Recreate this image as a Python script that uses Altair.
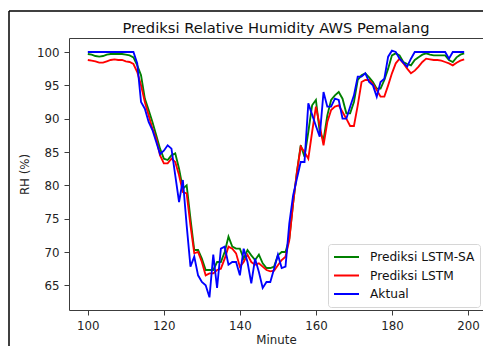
import altair as alt
import pandas as pd

minutes = list(range(100, 200))

aktual = [
    100.0, 100.0, 100.0, 100.0, 100.0, 100.0, 100.0, 100.0, 100.0, 100.0,  # 100-109
    100.0, 100.0, 100.0, 98.3, 92.5, 91.5, 89.5, 88.3, 86.5, 84.7,        # 110-119
    85.2, 86.0, 85.5, 81.5, 77.5, 80.8, 74.0, 67.8, 69.3, 66.5,           # 120-129
    65.5, 65.0, 63.2, 69.6, 64.6, 70.5, 70.8, 68.1, 68.5, 68.5,           # 130-139
    66.5, 70.5, 68.5, 65.3, 69.0, 67.0, 64.6, 65.5, 65.5, 67.5,           # 140-149
    69.6, 67.6, 67.8, 74.3, 78.5, 81.0, 83.5, 83.5, 92.3, 90.6,           # 150-159
    88.9, 87.3, 94.0, 91.8, 91.8, 93.0, 92.8, 90.0, 90.0, 91.8,           # 160-169
    93.5, 96.3, 96.3, 96.8, 95.5, 95.0, 93.3, 95.5, 96.0, 99.3,           # 170-179
    100.2, 100.0, 99.0, 98.4, 97.8, 99.0, 100.0, 100.0, 100.0, 100.0,     # 180-189
    100.0, 100.0, 100.0, 100.0, 100.0, 99.0, 100.0, 100.0, 100.0, 100.0,  # 190-199
]

lstm_sa = [
    99.7, 99.6, 99.4, 99.3, 99.4, 99.6, 99.7, 99.7, 99.7, 99.7,           # 100-109
    99.6, 99.5, 99.2, 98.0, 96.5, 93.0, 91.3, 89.5, 87.5, 85.5,           # 110-119
    84.0, 83.8, 84.5, 84.8, 82.5, 79.5, 80.0, 75.0, 70.3, 70.3,           # 120-129
    69.0, 67.3, 67.3, 67.3, 68.5, 68.5, 70.0, 72.3, 70.8, 70.5,           # 130-139
    70.5, 69.0, 70.3, 69.5, 68.8, 69.6, 68.3, 67.6, 67.6, 67.8,           # 140-149
    69.5, 70.0, 70.0, 72.0, 77.3, 82.0, 86.0, 84.3, 88.0, 92.0,           # 150-159
    92.8, 88.0, 86.8, 90.5, 92.8, 93.5, 94.0, 93.0, 90.8, 90.8,           # 160-169
    92.5, 95.8, 96.5, 96.8, 96.2, 95.5, 94.5, 94.5, 95.8, 97.5,           # 170-179
    99.5, 99.8, 99.5, 98.5, 98.2, 98.0, 98.8, 99.2, 99.6, 99.8,           # 180-189
    99.6, 99.5, 99.5, 99.5, 99.5, 98.8, 98.5, 99.2, 99.6, 99.8,           # 190-199
]

lstm = [
    98.8, 98.7, 98.6, 98.4, 98.4, 98.6, 98.8, 98.9, 98.8, 98.8,           # 100-109
    98.6, 98.5, 98.2, 97.0, 95.0, 92.5, 90.5, 88.5, 87.0, 84.5,           # 110-119
    83.3, 83.3, 84.0, 83.5, 81.5, 79.0, 78.8, 74.0, 69.8, 70.0,           # 120-129
    68.5, 66.5, 66.8, 66.8, 67.3, 67.5, 69.0, 70.8, 70.5, 69.8,           # 130-139
    67.8, 68.5, 69.6, 68.5, 68.1, 68.3, 67.8, 67.3, 67.1, 67.2,           # 140-149
    68.0, 68.8, 69.3, 71.8, 77.3, 82.0, 85.8, 85.0, 84.0, 88.0,           # 150-159
    91.8, 89.0, 86.0, 89.5, 91.3, 91.8, 92.0, 91.0, 90.0, 88.9,           # 160-169
    88.9, 92.0, 95.5, 95.8, 95.8, 95.2, 94.3, 93.3, 93.3, 95.0,           # 170-179
    96.8, 98.3, 99.0, 98.3, 97.5, 96.8, 97.2, 97.8, 98.5, 99.0,           # 180-189
    98.9, 98.8, 98.8, 98.7, 98.5, 98.3, 98.0, 98.4, 98.7, 98.9,           # 190-199
]

series_names = ["Prediksi LSTM-SA", "Prediksi LSTM", "Aktual"]
series_colors = ["#008000", "#ff0000", "#0000ff"]
series_values = [lstm_sa, lstm, aktual]

x_ticks = [100, 120, 140, 160, 180, 200]
y_ticks = [65, 70, 75, 80, 85, 90, 95, 100]

FONT = "DejaVu Sans"

color = alt.Color(
    "series:N",
    scale=alt.Scale(domain=series_names, range=series_colors),
    title=None,
    legend=alt.Legend(
        orient="none",
        legendX=259,
        legendY=206,
        symbolType="stroke",
        symbolSize=625,
        symbolStrokeWidth=1.9,
        labelFont=FONT,
        labelFontSize=12.2,
        labelColor="#111",
        labelOffset=10,
        clipHeight=16,
        rowPadding=2.5,
        padding=5,
        strokeColor="#d6d6d6",
        fillColor="white",
        cornerRadius=3,
    ),
)

x_enc = alt.X(
    "minute:Q",
    scale=alt.Scale(domain=[95.05, 203.95], nice=False, zero=False),
    axis=alt.Axis(values=x_ticks, title="Minute", titlePadding=3, labelPadding=5),
)
y_enc = alt.Y(
    "rh:Q",
    scale=alt.Scale(domain=[61.3, 102.1], nice=False, zero=False),
    axis=alt.Axis(values=y_ticks, title="RH (%)", titlePadding=6, labelPadding=5),
)

layers = []
for name, vals in zip(series_names, series_values):
    df = pd.DataFrame({"minute": minutes, "rh": vals, "series": name})
    layers.append(
        alt.Chart(df).mark_line(strokeWidth=1.85).encode(x=x_enc, y=y_enc, color=color)
    )

one = alt.Data(values=[{}])
top_border = alt.Chart(one).mark_rule(color="black", strokeWidth=1.5).encode(
    x=alt.value(-60), x2=alt.value(418), y=alt.value(-27)
)
left_border = alt.Chart(one).mark_rule(color="black", strokeWidth=1.5).encode(
    x=alt.value(-60), y=alt.value(-27), y2=alt.value(320)
)

chart = (
    alt.layer(*layers, top_border, left_border)
    .properties(
        width=414,
        height=272,
        autosize=alt.AutoSizeParams(type="none"),
        padding={"left": 61, "top": 30, "right": 0, "bottom": 36},
        background="white",
        title=alt.TitleParams(
            "Prediksi Relative Humidity AWS Pemalang",
            font=FONT,
            fontSize=14.7,
            fontWeight="normal",
            color="#111",
            anchor="middle",
            frame="group",
            baseline="alphabetic",
            offset=0,
            dy=37,
        ),
    )
    .configure_view(stroke="#3c3c3c", strokeWidth=1)
    .configure_axis(
        grid=False,
        domain=False,
        tickColor="#3c3c3c",
        tickSize=5,
        tickWidth=1,
        labelFont=FONT,
        labelFontSize=11.8,
        labelColor="#222",
        titleFont=FONT,
        titleFontSize=11.8,
        titleFontWeight="normal",
        titleColor="#222",
    )
)

chart.save("out.html", embed_options={"renderer": "svg", "actions": False})
